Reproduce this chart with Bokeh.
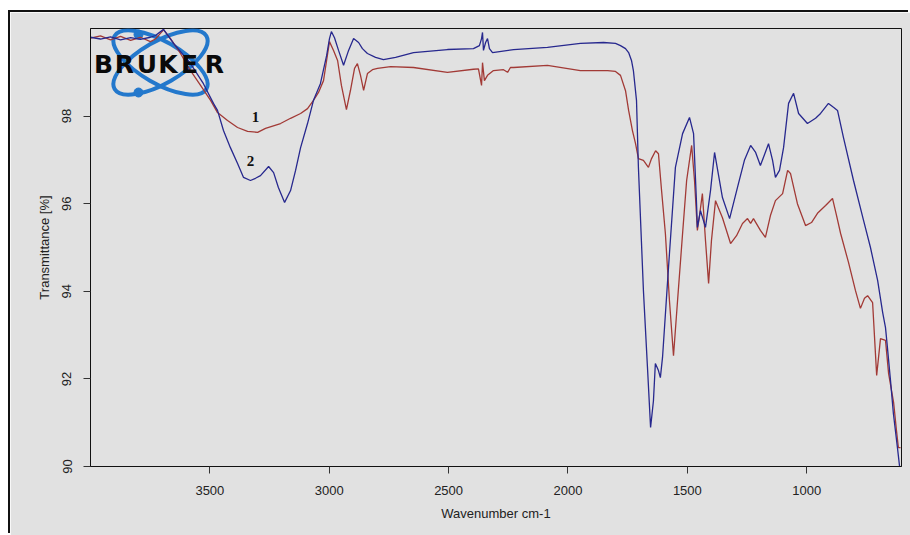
import math
from bokeh.plotting import figure
from bokeh.models import Range1d, FixedTicker, GlobalInlineStyleSheet
from bokeh.core.properties import value
from bokeh.embed import file_html
from bokeh.resources import INLINE

# ---- data ----
# sample 2 (blue)
blue_wn = [4000, 3958, 3916, 3874, 3832, 3791, 3749, 3728, 3694, 3652,
           3581, 3527, 3485, 3468, 3443, 3414, 3384, 3359, 3330, 3309,
           3288, 3254, 3233, 3213, 3187, 3162, 3141, 3120, 3091, 3066,
           3037, 3011, 2999, 2991, 2978, 2961, 2940, 2919, 2898, 2877,
           2861, 2840, 2806, 2773, 2722, 2647, 2505, 2396, 2371, 2362,
           2358, 2354, 2345, 2337, 2329, 2316, 2228, 2086, 1948, 1851,
           1801, 1780, 1759, 1746, 1734, 1726, 1713, 1705, 1684, 1667,
           1654, 1642, 1634, 1621, 1613, 1604, 1579, 1550, 1520, 1491,
           1474, 1462, 1458, 1445, 1424, 1403, 1386, 1369, 1353, 1323,
           1286, 1261, 1235, 1214, 1194, 1160, 1143, 1131, 1114, 1097,
           1076, 1055, 1034, 997, 963, 942, 909, 888, 871, 846,
           804, 762, 733, 703, 682, 670, 662, 649, 637, 620,
           611]
blue_t = [99.80, 99.76, 99.81, 99.74, 99.79, 99.75, 99.80, 99.84, 99.98, 99.66,
          99.20, 98.74, 98.29, 98.13, 97.67, 97.28, 96.92, 96.60, 96.53, 96.58,
          96.64, 96.85, 96.71, 96.37, 96.03, 96.30, 96.76, 97.28, 97.83, 98.36,
          98.74, 99.38, 99.77, 99.93, 99.79, 99.50, 99.16, 99.50, 99.77, 99.68,
          99.54, 99.43, 99.34, 99.29, 99.34, 99.45, 99.52, 99.54, 99.61, 99.77,
          99.91, 99.50, 99.68, 99.77, 99.54, 99.45, 99.52, 99.57, 99.66, 99.68,
          99.66, 99.61, 99.54, 99.45, 99.27, 99.04, 98.36, 96.83, 94.02, 92.26,
          90.89, 91.50, 92.35, 92.19, 92.03, 92.49, 94.54, 96.83, 97.60, 97.97,
          97.60, 96.07, 95.46, 95.84, 95.46, 96.30, 97.17, 96.64, 96.14, 95.66,
          96.46, 96.99, 97.33, 97.17, 96.87, 97.37, 96.99, 96.60, 96.76, 97.28,
          98.29, 98.52, 98.06, 97.83, 97.95, 98.06, 98.29, 98.20, 98.13, 97.51,
          96.53, 95.62, 95.00, 94.25, 93.52, 93.17, 92.72, 91.96, 91.21, 90.43,
          90.00]

# sample 1 (red)
red_wn = [4000, 3958, 3916, 3874, 3832, 3791, 3749, 3728, 3694, 3665,
          3623, 3581, 3539, 3497, 3468, 3426, 3384, 3342, 3300, 3267,
          3204, 3162, 3120, 3091, 3066, 3045, 3024, 3011, 2999, 2982,
          2965, 2949, 2928, 2911, 2894, 2882, 2869, 2856, 2840, 2819,
          2798, 2743, 2647, 2505, 2396, 2375, 2362, 2358, 2350, 2337,
          2312, 2270, 2253, 2241, 2228, 2086, 1948, 1834, 1801, 1780,
          1759, 1746, 1730, 1717, 1705, 1684, 1663, 1650, 1633, 1621,
          1608, 1592, 1575, 1558, 1541, 1520, 1503, 1482, 1470, 1458,
          1449, 1437, 1424, 1411, 1399, 1382, 1353, 1319, 1294, 1269,
          1248, 1235, 1223, 1194, 1173, 1152, 1131, 1101, 1080, 1068,
          1039, 1005, 980, 955, 921, 892, 875, 858, 825, 796,
          775, 758, 745, 724, 707, 691, 670, 657, 636, 624,
          616, 607]
red_t = [99.78, 99.83, 99.74, 99.82, 99.73, 99.80, 99.70, 99.76, 99.97, 99.77,
         99.43, 99.04, 98.70, 98.36, 98.08, 97.90, 97.74, 97.65, 97.63, 97.72,
         97.83, 97.95, 98.06, 98.17, 98.36, 98.54, 98.81, 99.27, 99.70, 99.50,
         99.27, 98.70, 98.15, 98.59, 99.09, 99.20, 98.93, 98.59, 98.97, 99.06,
         99.09, 99.13, 99.11, 99.00, 99.07, 99.08, 98.70, 99.22, 98.81, 98.93,
         99.04, 99.06, 99.00, 99.11, 99.11, 99.16, 99.04, 99.04, 99.02, 98.93,
         98.58, 98.13, 97.67, 97.37, 97.03, 96.99, 96.83, 97.03, 97.21, 97.14,
         96.30, 95.32, 93.79, 92.53, 93.79, 95.32, 96.53, 97.33, 96.53, 95.39,
         95.73, 96.23, 95.16, 94.18, 95.16, 96.07, 95.68, 95.09, 95.27, 95.55,
         95.66, 95.55, 95.66, 95.39, 95.23, 95.73, 96.07, 96.23, 96.76, 96.69,
         96.00, 95.50, 95.57, 95.78, 95.96, 96.12, 95.73, 95.32, 94.66, 94.02,
         93.61, 93.84, 93.90, 93.74, 92.08, 92.92, 92.88, 92.12, 91.46, 90.82,
         90.43, 90.43]

x_ticks = [3500, 3000, 2500, 2000, 1500, 1000]
y_ticks = [90, 92, 94, 96, 98]
curve_labels = ["1", "2"]
label_wn = [3309, 3330]
label_t = [97.97, 96.97]

X_LEFT, X_RIGHT = 4000, 603
Y_BOTTOM, Y_TOP = 90, 100

BG = "#e1e1e1"
OFF_X, OFF_Y = 10, 12          # page offset of the canvas (inside the frame line)
W, H = 910 - OFF_X, 535 - OFF_Y
FL, FR, FT, FB = 90, 901, 28, 466  # frame edges in page pixels


def px_x(px):
    return X_LEFT + (px - FL) * (X_RIGHT - X_LEFT) / (FR - FL)


def px_y(py):
    return Y_BOTTOM + (FB - py) * (Y_TOP - Y_BOTTOM) / (FB - FT)


p = figure(width=W, height=H, output_backend="svg", toolbar_location=None,
           x_range=Range1d(X_LEFT, X_RIGHT), y_range=Range1d(Y_BOTTOM, Y_TOP),
           min_border_left=FL - OFF_X, min_border_right=910 - FR,
           min_border_top=FT - OFF_Y, min_border_bottom=535 - FB)
# outer picture frame: a dark line on the left and top edges
p.styles = {"position": "absolute", "left": f"{OFF_X}px", "top": f"{OFF_Y}px",
            "box-shadow": "-2px -2px 0px 0px #111111"}
p.stylesheets = [GlobalInlineStyleSheet(
    css="html, body { overflow: hidden; margin: 0; } "
        "::-webkit-scrollbar { display: none; width: 0; height: 0; }")]
p.background_fill_color = BG
p.border_fill_color = BG
p.outline_line_color = "#111111"
p.outline_line_width = 1
p.xgrid.visible = False
p.ygrid.visible = False

for ax in (p.xaxis, p.yaxis):
    ax.major_tick_out = 7
    ax.major_tick_in = 0
    ax.minor_tick_line_color = None
    ax.axis_line_color = "#111111"
    ax.major_tick_line_color = "#333333"
    ax.major_label_text_font = "Liberation Sans"
    ax.major_label_text_font_size = "13px"
    ax.major_label_text_color = "#222222"
    ax.axis_label_text_font = "Liberation Sans"
    ax.axis_label_text_font_size = "13px"
    ax.axis_label_text_font_style = "normal"
    ax.axis_label_text_color = "#222222"
    ax.major_label_standoff = 12
    ax.axis_label_standoff = 8

p.xaxis.ticker = FixedTicker(ticks=x_ticks)
p.yaxis.ticker = FixedTicker(ticks=y_ticks)
p.yaxis.major_label_orientation = "vertical"
p.xaxis.axis_label = "Wavenumber cm-1"
p.yaxis.axis_label = "Transmittance [%]"

# Bruker logo (decoration)
logo_blue = "#2378cc"
cx, cy = px_x(160), px_y(62)
p.ellipse(x=[cx, cx], y=[cy, cy], width=106, height=42,
          width_units="screen", height_units="screen",
          angle=[math.radians(30), math.radians(-30)],
          fill_color=None, line_color=logo_blue, line_width=4)
p.scatter(x=[px_x(138), px_x(138)], y=[px_y(34), px_y(92)], size=9,
          color=logo_blue)

# spectra
p.line(red_wn, red_t, line_color="#a23a36", line_width=1.3)
p.line(blue_wn, blue_t, line_color="#27288e", line_width=1.3)

letters = list("BRUKER")
letter_px = [103, 124, 146.5, 167.5, 189, 214]
p.text(x=[px_x(v) for v in letter_px], y=[px_y(63.5)] * 6, text=letters,
       text_font=value("DejaVu Sans"), text_font_style="bold",
       text_font_size="25px", text_align="center",
       text_baseline="middle", text_color="#0a0a0a")

p.text(x=label_wn, y=label_t, text=curve_labels,
       text_font=value("Liberation Serif"), text_font_style="bold",
       text_font_size="15px", text_align="center", text_baseline="middle",
       text_color="#111111")

open("out.html", "w").write(file_html(p, INLINE))
